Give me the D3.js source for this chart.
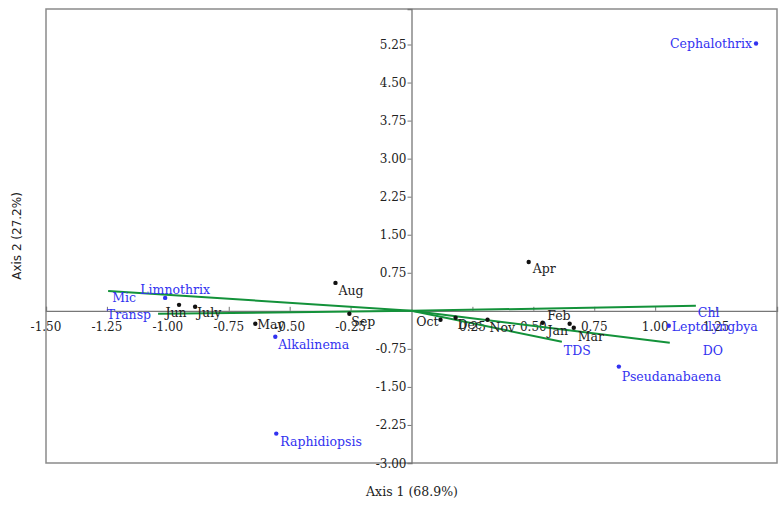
<!DOCTYPE html>
<html><head><meta charset="utf-8">
<script src="https://cdn.jsdelivr.net/npm/d3@7/dist/d3.min.js"></script>
<style>body{margin:0;background:#fff}svg{display:block}</style>
</head><body><svg id="c" width="783" height="509"></svg>
<script>
// Month scores (black)
const months = ["Aug","Apr","Jun","July","May","Sep","Oct","Dec","Nov","Jan","Feb","Mar"];
const monthX = [-0.312,0.481,-0.954,-0.888,-0.641,-0.255,0.119,0.181,0.312,0.538,0.649,0.666];
const monthY = [0.55,0.963,0.118,0.079,-0.255,-0.059,-0.177,-0.138,-0.177,-0.236,-0.255,-0.334];
// Species scores (blue points)
const species = ["Cephalothrix","Limnothrix","Alkalinema","Raphidiopsis","Pseudanabaena","Leptolyngbya"];
const speciesX = [1.414,-1.011,-0.559,-0.555,0.851,1.056];
const speciesY = [5.27,0.255,-0.511,-2.42,-1.10,-0.295];
// Environmental vectors (green)
const vectors = ["Mic","Transp","Chl","DO","TDS"];
const vectorX = [-1.245,-1.040,1.167,1.060,0.617];
const vectorY = [0.393,-0.059,0.098,-0.629,-0.609];
// Ticks
const xTicks = [-1.50,-1.25,-1.00,-0.75,-0.50,-0.25,0.25,0.50,0.75,1.00,1.25];
const yTicks = [-3.00,-2.25,-1.50,-0.75,0.75,1.50,2.25,3.00,3.75,4.50,5.25];

const svg = d3.select("#c");
const x = d3.scaleLinear().domain([-1.5,1.5]).range([46,777]);
const y = d3.scaleLinear().domain([-3,5.95]).range([463,9]);
const serif = "DejaVu Serif";
const blue = "#3232f0";
const green = "#13923a";

// frame
svg.append("rect").attr("x",x(-1.5)).attr("y",y(5.95)).attr("width",x(1.5)-x(-1.5)).attr("height",y(-3)-y(5.95))
  .attr("fill","none").attr("stroke","#8a8a8a").attr("stroke-width",1.5);

// axes through origin
const xa = d3.axisTop(x).tickValues(xTicks).tickSize(4).tickFormat("");
const ya = d3.axisLeft(y).tickValues(yTicks).tickSize(4).tickFormat("");
const gx = svg.append("g").attr("transform",`translate(0,${y(0)})`).call(xa);
const gy = svg.append("g").attr("transform",`translate(${x(0)},0)`).call(ya);
[gx,gy].forEach(g=>{g.select(".domain").attr("stroke","#777").attr("stroke-width",1.3);g.selectAll(".tick line").attr("stroke","#777");});

svg.append("g").selectAll("text").data(xTicks).join("text")
  .attr("x",d=>x(d)).attr("y",y(0)+20).attr("text-anchor","middle")
  .attr("font-family",serif).attr("font-size",12).attr("fill","#222").text(d=>d.toFixed(2));
svg.append("g").selectAll("text").data(yTicks).join("text")
  .attr("x",x(0)-5).attr("y",d=>y(d)+4.5).attr("text-anchor","end")
  .attr("font-family",serif).attr("font-size",12).attr("fill","#222").text(d=>d.toFixed(2));

// axis titles
svg.append("text").attr("x",412).attr("y",496).attr("text-anchor","middle")
  .attr("font-family",serif).attr("font-size",12.5).attr("fill","#222").text("Axis 1 (68.9%)");
svg.append("text").attr("transform","translate(21,236) rotate(-90)").attr("text-anchor","middle")
  .attr("font-family","DejaVu Sans").attr("font-size",12).attr("fill","#222").text("Axis 2 (27.2%)");

// label placement (dx, dy, anchor)
const place = {
  Aug:[3,12,"start"],Apr:[4,11,"start"],Jun:[-3,12,"middle"],July:[2,10,"start"],May:[2,5,"start"],
  Sep:[2,12,"start"],Oct:[-2,6,"end"],Dec:[2,11,"start"],Nov:[2,12,"start"],Jan:[5,12,"start"],
  Feb:[1,-4,"end"],Mar:[4,13,"start"],
  Cephalothrix:[-4,5,"end"],Limnothrix:[10,-4,"middle"],Alkalinema:[3,12,"start"],Raphidiopsis:[4,12,"start"],
  Pseudanabaena:[3,14,"start"],Leptolyngbya:[3,5,"start"],
  Mic:[4,11,"start"],Transp:[-7,5,"end"],Chl:[2,11,"start"],DO:[43,12,"middle"],TDS:[2,13,"start"]
};

// vectors
const vec = vectors.map((n,i)=>({n,x:vectorX[i],y:vectorY[i]}));
svg.append("g").selectAll("line").data(vec).join("line")
  .attr("x1",x(0)).attr("y1",y(0)).attr("x2",d=>x(d.x)).attr("y2",d=>y(d.y))
  .attr("stroke",green).attr("stroke-width",2);

const mon = months.map((n,i)=>({n,x:monthX[i],y:monthY[i]}));
const sp = species.map((n,i)=>({n,x:speciesX[i],y:speciesY[i]}));

svg.append("g").selectAll("circle").data(mon).join("circle")
  .attr("cx",d=>x(d.x)).attr("cy",d=>y(d.y)).attr("r",2.2).attr("fill","#111");
svg.append("g").selectAll("circle").data(sp).join("circle")
  .attr("cx",d=>x(d.x)).attr("cy",d=>y(d.y)).attr("r",2.2).attr("fill",blue);

function labels(data,color){
  svg.append("g").selectAll("text").data(data).join("text")
    .attr("x",d=>x(d.x)+place[d.n][0]).attr("y",d=>y(d.y)+place[d.n][1])
    .attr("text-anchor",d=>place[d.n][2])
    .attr("font-family",serif).attr("font-size",12.5).attr("fill",color).text(d=>d.n);
}
labels(mon,"#222");
labels(sp,blue);
labels(vec,blue);
</script></body></html>
